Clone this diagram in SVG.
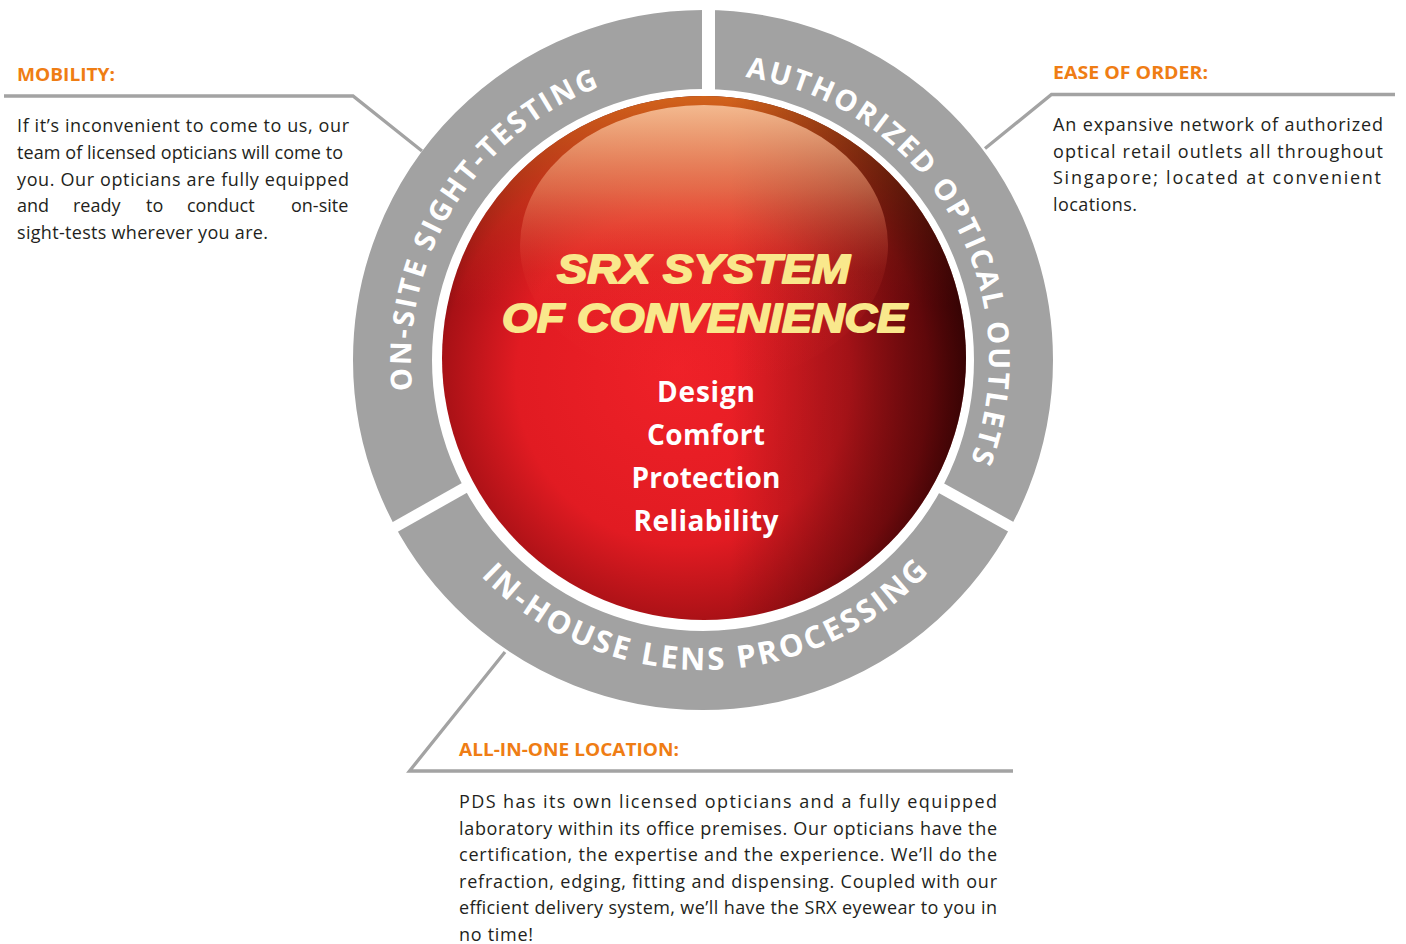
<svg xmlns="http://www.w3.org/2000/svg" width="1406" height="944" viewBox="0 0 1406 944">
<defs>
  <radialGradient id="gBase" cx="0.47" cy="0.55" r="0.58" fx="0.45" fy="0.52">
    <stop offset="0" stop-color="#ef2128"/>
    <stop offset="0.55" stop-color="#e11b22"/>
    <stop offset="0.8" stop-color="#a81116"/>
    <stop offset="1" stop-color="#3a0505"/>
  </radialGradient>
  <linearGradient id="gTop" x1="0" y1="0" x2="0" y2="1">
    <stop offset="0" stop-color="#d8681c" stop-opacity="0.95"/>
    <stop offset="0.22" stop-color="#e0501e" stop-opacity="0.4"/>
    <stop offset="0.4" stop-color="#e0301e" stop-opacity="0"/>
  </linearGradient>
  <linearGradient id="gRight" x1="0" y1="0" x2="1" y2="0">
    <stop offset="0.55" stop-color="#200000" stop-opacity="0"/>
    <stop offset="1" stop-color="#200000" stop-opacity="0.65"/>
  </linearGradient>
  <linearGradient id="gHi" x1="0" y1="0" x2="0" y2="1">
    <stop offset="0" stop-color="#f7c39c" stop-opacity="0.9"/>
    <stop offset="0.3" stop-color="#f39a74" stop-opacity="0.5"/>
    <stop offset="0.6" stop-color="#ec4a3a" stop-opacity="0.12"/>
    <stop offset="1" stop-color="#e82a2a" stop-opacity="0"/>
  </linearGradient>
  <path id="pLeft" d="M412.6,390.5 A292,292 0 0 1 955.9,214"/>
  <path id="pRight" d="M745.3,77.1 A286,286 0 0 1 846,607.7"/>
  <path id="pBottom" d="M480.8,576.1 A310,310 0 0 0 971.5,515"/>
</defs>
<style>
  .ringlbl { font-family: "Open Sans", "Noto Sans", sans-serif; font-weight: 700; font-size: 29px; fill: #ffffff; letter-spacing: 2.3px; }
  .head { font-family: "Open Sans", "Noto Sans", sans-serif; font-weight: 700; font-size: 18.5px; fill: #ef7d14; }
  .body { font-family: "Open Sans", "Noto Sans", sans-serif; font-size: 18px; fill: #231f20; }
  .title { font-family: "Liberation Sans", Arial, sans-serif; font-weight: 700; font-style: italic; font-size: 40px; fill: #f9e88c; stroke: #f9e88c; stroke-width: 1.8px; stroke-linejoin: round; text-anchor: middle; }
  .word { font-family: "Open Sans", "Noto Sans", sans-serif; font-weight: 700; font-size: 28px; fill: #ffffff; text-anchor: middle; }
  .conn { fill: none; stroke: #a3a3a3; stroke-width: 3.3; stroke-linejoin: miter; }
  .gap { stroke: #ffffff; stroke-width: 11; }
</style>
<rect width="1406" height="944" fill="#ffffff"/>

<g id="connectors">
  <path class="conn" d="M4,96 H353 L422,151"/>
  <path class="conn" d="M1395,94.5 H1051.5 L985,148.5"/>
  <path class="conn" d="M1013,771 H409.5 L505,652"/>
</g>

<g id="ring">
  <circle cx="703" cy="360" r="310.5" fill="none" stroke="#a2a2a2" stroke-width="79"/>
  <rect x="702" y="0" width="13" height="100" fill="#ffffff"/>
  <line class="gap" x1="372" y1="540" x2="482" y2="478"/>
  <line class="gap" x1="923" y1="478" x2="1033" y2="539"/>
</g>

<g id="seg-onsite">
  <text class="ringlbl"><textPath href="#pLeft">ON-SITE SIGHT-TESTING</textPath></text>
</g>
<g id="seg-authorized">
  <text class="ringlbl"><textPath href="#pRight">AUTHORIZED OPTICAL OUTLETS</textPath></text>
</g>
<g id="seg-inhouse">
  <text class="ringlbl" style="font-size:31px;letter-spacing:2.7px"><textPath href="#pBottom">IN-HOUSE LENS PROCESSING</textPath></text>
</g>

<g id="center">
  <circle cx="704" cy="358" r="262" fill="url(#gBase)"/>
  <circle cx="704" cy="358" r="262" fill="url(#gTop)"/>
  <circle cx="704" cy="358" r="262" fill="url(#gRight)"/>
  <ellipse cx="704" cy="245" rx="184" ry="140" fill="url(#gHi)"/>
  <text class="title" x="703.5" y="283" textLength="293" lengthAdjust="spacingAndGlyphs">SRX SYSTEM</text>
  <text class="title" x="704.5" y="332" textLength="405" lengthAdjust="spacingAndGlyphs">OF CONVENIENCE</text>
  <text class="word" x="706" y="402" textLength="98">Design</text>
  <text class="word" x="706" y="445" textLength="118">Comfort</text>
  <text class="word" x="706" y="488" textLength="149">Protection</text>
  <text class="word" x="706" y="531" textLength="145">Reliability</text>
</g>

<g id="callout-mobility">
  <text class="head" x="17" y="81" textLength="98" lengthAdjust="spacingAndGlyphs">MOBILITY:</text>
  <text class="body" x="17" y="132.3" textLength="332">If it’s inconvenient to come to us, our</text>
  <text class="body" x="17" y="159" textLength="326">team of licensed opticians will come to</text>
  <text class="body" x="17" y="185.7" textLength="332">you. Our opticians are fully equipped</text>
  <text class="body" y="212.3"><tspan x="17">and</tspan><tspan x="73">ready</tspan><tspan x="146">to</tspan><tspan x="187">conduct</tspan><tspan x="291">on-site</tspan></text>
  <text class="body" x="17" y="239" textLength="251">sight-tests wherever you are.</text>
</g>

<g id="callout-ease">
  <text class="head" x="1053" y="79" textLength="155" lengthAdjust="spacingAndGlyphs">EASE OF ORDER:</text>
  <text class="body" x="1053" y="131" textLength="330">An expansive network of authorized</text>
  <text class="body" x="1053" y="157.5" textLength="330">optical retail outlets all throughout</text>
  <text class="body" x="1053" y="184" textLength="328">Singapore; located at convenient</text>
  <text class="body" x="1053" y="210.5" textLength="84">locations.</text>
</g>

<g id="callout-allinone">
  <text class="head" x="459" y="756" textLength="220" lengthAdjust="spacingAndGlyphs">ALL-IN-ONE LOCATION:</text>
  <text class="body" x="459" y="808" textLength="538">PDS has its own licensed opticians and a fully equipped</text>
  <text class="body" x="459" y="834.6" textLength="538">laboratory within its office premises. Our opticians have the</text>
  <text class="body" x="459" y="861.2" textLength="538">certification, the expertise and the experience. We’ll do the</text>
  <text class="body" x="459" y="887.8" textLength="538">refraction, edging, fitting and dispensing. Coupled with our</text>
  <text class="body" x="459" y="914.4" textLength="538">efficient delivery system, we’ll have the SRX eyewear to you in</text>
  <text class="body" x="459" y="941" textLength="74">no time!</text>
</g>
</svg>
